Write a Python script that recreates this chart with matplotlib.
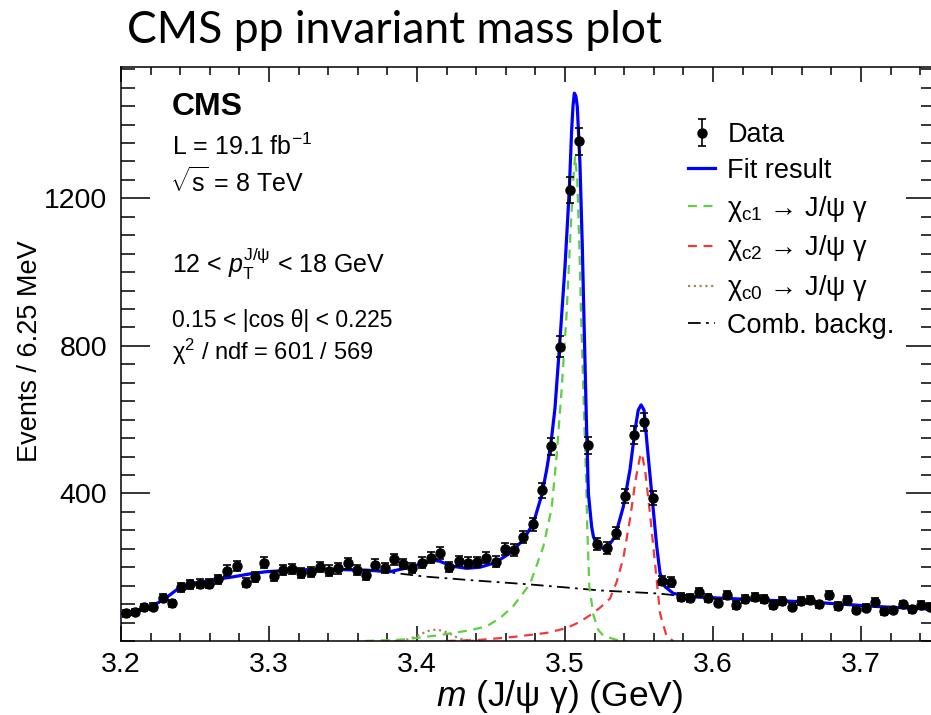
import numpy as np
import matplotlib
matplotlib.use('Agg')
import matplotlib.pyplot as plt
from matplotlib.ticker import MultipleLocator, FixedLocator
from matplotlib.lines import Line2D

plt.rcParams['font.family'] = ['Liberation Sans', 'DejaVu Sans']
plt.rcParams['mathtext.fontset'] = 'custom'
plt.rcParams['mathtext.rm'] = 'Liberation Sans'
plt.rcParams['mathtext.it'] = 'Liberation Sans:italic'
plt.rcParams['mathtext.bf'] = 'Liberation Sans:bold'

# binning: 6.25 MeV bins from 3.2 to 3.75 GeV
bin_width = 0.00625
counts = [75, 79, 91, 93, 116, 102, 146, 154, 155, 155, 167, 191, 203, 158, 174, 212,
          177, 193, 195, 184, 186, 200, 191, 197, 211, 193, 179, 207, 198, 222, 209, 198,
          212, 226, 239, 200, 217, 212, 214, 226, 215, 249, 247, 282, 316, 408, 528, 798,
          1222, 1355, 530, 264, 253, 293, 393, 558, 595, 388, 164, 160, 118, 116, 132, 116,
          104, 125, 98, 114, 118, 113, 98, 109, 93, 108, 111, 99, 125, 95, 111, 84,
          90, 107, 80, 84, 99, 86, 98, 93]

# fit result
fit_m = [3.2000, 3.2095, 3.2174, 3.2252, 3.2331, 3.2399, 3.2466, 3.2556, 3.2658, 3.2759,
         3.2872, 3.2984, 3.3209, 3.3434, 3.3660, 3.3817, 3.3975, 3.4100, 3.4155, 3.4234,
         3.4336, 3.4426, 3.4527, 3.4628, 3.4718, 3.4786, 3.4843, 3.4876, 3.4905, 3.4932,
         3.4966, 3.5000, 3.5029, 3.5045, 3.5054, 3.5063, 3.5073, 3.5083, 3.5101, 3.5117,
         3.5130, 3.5145, 3.5158, 3.5169, 3.5180, 3.5192, 3.5214, 3.5250, 3.5282, 3.5338,
         3.5394, 3.5439, 3.5473, 3.5495, 3.5514, 3.5534, 3.5556, 3.5586, 3.5620, 3.5642,
         3.5676, 3.5732, 3.5845, 3.6228, 3.6678, 3.7128, 3.7500]
fit_v = [75, 82, 90, 104, 125, 146, 155, 161, 168, 174,
         182, 188, 193, 194, 192, 188, 202, 220, 216, 203,
         197, 200, 212, 238, 274, 319, 396, 464, 536, 630,
         816, 1015, 1223, 1386, 1450, 1485, 1478, 1449, 1295, 1069,
         843, 590, 400, 355, 310, 283, 262, 252, 251, 283,
         364, 464, 572, 626, 640, 626, 527, 400, 256, 184,
         147, 129, 120, 113, 105, 93, 86]

# combinatorial background
bkg_m = [3.2000, 3.2095, 3.2174, 3.2252, 3.2331, 3.2399, 3.2466, 3.2556, 3.2658, 3.2759,
         3.2872, 3.2984, 3.3209, 3.3434, 3.3660, 3.3817, 3.4043, 3.4358, 3.4741, 3.5011,
         3.5236, 3.5620, 3.5845, 3.6228, 3.6678, 3.7128, 3.7500]
bkg_v = [75, 82, 90, 104, 125, 146, 155, 161, 168, 174,
         182, 188, 193, 194, 192, 186, 175, 165, 154, 145,
         137, 129, 120, 113, 105, 93, 86]

# chi_c1 component
c1_m = [3.365, 3.3908, 3.4133, 3.4358, 3.4471, 3.4561, 3.4651, 3.4764, 3.4853, 3.4910,
        3.4943, 3.4977, 3.5011, 3.5038, 3.5056, 3.5068, 3.5083, 3.5097, 3.5108, 3.5124,
        3.5142, 3.5151, 3.5164, 3.5192, 3.5225, 3.5260, 3.5349, 3.5417]
c1_v = [0, 4, 15, 29, 40, 62, 95, 155, 255, 360,
        500, 680, 889, 1115, 1250, 1314, 1250, 1069, 889, 680,
        440, 301, 150, 70, 30, 14, 3, 0]

# chi_c2 component
c2_m = [3.420, 3.4426, 3.4651, 3.4876, 3.5011, 3.5101, 3.5169, 3.5236, 3.5304, 3.5349,
        3.5394, 3.5439, 3.5477, 3.5507, 3.5518, 3.5541, 3.5574, 3.5608, 3.5642, 3.5687,
        3.5732]
c2_v = [0, 3, 11, 22, 35, 52, 70, 90, 115, 160,
        225, 330, 437, 500, 509, 464, 346, 211, 75, 12,
        0]

# chi_c0 component
c0_m = [3.385, 3.395, 3.402, 3.4088, 3.4133, 3.4178, 3.4223, 3.4268, 3.4313, 3.440]
c0_v = [0, 5, 18, 29, 31, 27, 20, 10, 3, 0]

y_ticks = [400, 800, 1200]

counts = np.array(counts, dtype=float)
centers = 3.2 + bin_width * (np.arange(len(counts)) + 0.5)

W, H = 931, 715
fig = plt.figure(figsize=(W / 100, H / 100), dpi=100)
ax = fig.add_axes([121 / W, 1 - 641 / H, (935 - 121) / W, (641 - 67) / H])

green = '#5fcf3f'
red = '#f03a3a'
brown = '#a08a62'

ax.plot(bkg_m, bkg_v, color='black', lw=1.3, dashes=(7, 3, 1.5, 3), zorder=2)
ax.plot(c0_m, c0_v, color=brown, lw=1.6, ls=(0, (1, 1.6)), zorder=2)
ax.plot(c1_m, c1_v, color=green, lw=1.6, dashes=(4, 3), zorder=2)
ax.plot(c2_m, c2_v, color=red, lw=1.6, dashes=(4, 3), zorder=2)
ax.plot(fit_m, fit_v, color='#0000ff', lw=2.3, zorder=3, solid_joinstyle='round')
data = ax.errorbar(centers, counts, yerr=np.sqrt(counts), fmt='o', color='black',
                   ms=6.5, capsize=3, elinewidth=1.2, capthick=1.2, zorder=4)

ax.set_xlim(3.2, 3.75)
ax.set_ylim(0, 1556)
ax.xaxis.set_major_locator(MultipleLocator(0.1))
ax.xaxis.set_minor_locator(MultipleLocator(0.02))
ax.yaxis.set_major_locator(FixedLocator(y_ticks))
ax.yaxis.set_minor_locator(MultipleLocator(50))
ax.xaxis.set_major_formatter(matplotlib.ticker.FormatStrFormatter('%.1f'))
ax.tick_params(axis='both', which='both', direction='in', top=True, right=True, width=1.1)
ax.tick_params(axis='y', which='major', length=21, labelsize=20.5, pad=10)
ax.tick_params(axis='y', which='minor', length=10)
ax.tick_params(axis='x', which='major', length=11, labelsize=20.5, pad=8)
ax.tick_params(axis='x', which='minor', length=5.5)
for s in ax.spines.values():
    s.set_linewidth(1.1)

# axis titles
fig.text(30 / W, 1 - 351 / H, 'Events / 6.25 MeV', rotation=90, fontsize=19.5,
         ha='center', va='center')
fig.text(560 / W, 1 - 706 / H, r'$m$ (J/ψ γ) (GeV)', fontsize=25.5,
         ha='center', va='baseline')

# text block
tx = 172 / W
fig.text(tx, 1 - 115 / H, 'CMS', fontsize=23, fontweight='bold', va='baseline')
fig.text(tx, 1 - 155 / H, r'L = 19.1 fb$^{\mathregular{-1}}$', fontsize=18, va='baseline')
fig.text(170 / W, 1 - 192 / H, r'$\sqrt{\mathregular{s}}$ = 8 TeV', fontsize=18, va='baseline')
fig.text(tx, 1 - 273 / H, r'12 < $p_{\mathregular{T}}^{\mathregular{J/ψ}}$ < 18 GeV',
         fontsize=18, va='baseline')
fig.text(tx, 1 - 327 / H, '0.15 < |cos θ| < 0.225', fontsize=16.5, va='baseline')
fig.text(tx, 1 - 360 / H, r'χ$^{\mathregular{2}}$ / ndf = 601 / 569', fontsize=17,
         va='baseline')

# title
fig.text(127 / W, 1 - 43 / H, 'CMS pp invariant mass plot', fontsize=32,
         family=['Lato', 'DejaVu Sans'], va='baseline')

handles = [data,
           Line2D([], [], color='#0000ff', lw=2.3),
           Line2D([], [], color=green, lw=1.6, dashes=(4, 3)),
           Line2D([], [], color=red, lw=1.6, dashes=(4, 3)),
           Line2D([], [], color=brown, lw=1.6, ls=(0, (1, 1.6))),
           Line2D([], [], color='black', lw=1.3, dashes=(7, 3, 1.5, 3))]
labels = ['Data', 'Fit result',
          r'χ$_{\mathregular{c1}}$ → J/ψ γ',
          r'χ$_{\mathregular{c2}}$ → J/ψ γ',
          r'χ$_{\mathregular{c0}}$ → J/ψ γ',
          'Comb. backg.']
fig.legend(handles, labels, loc='upper left', bbox_to_anchor=(688 / W, 1 - 122 / H),
           frameon=False, fontsize=19.5, handlelength=1.0, handletextpad=0.45,
           labelspacing=0.36, borderpad=0, borderaxespad=0)

fig.savefig('out.png', dpi=100)
